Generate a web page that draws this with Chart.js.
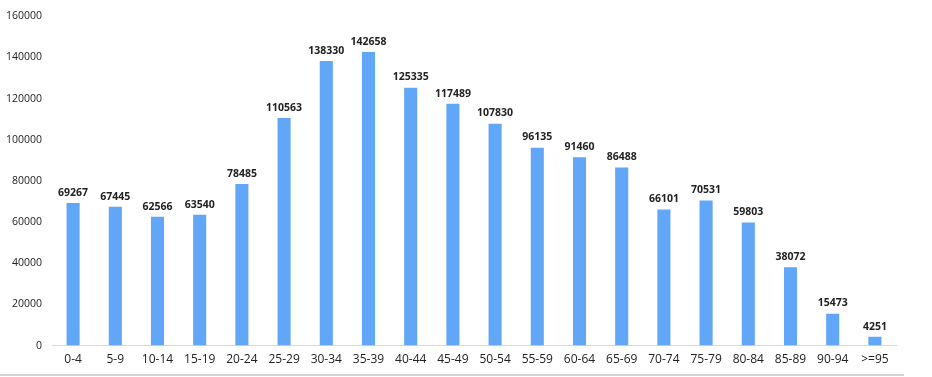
<!DOCTYPE html>
<html>
<head>
<meta charset="utf-8">
<script src="https://cdn.jsdelivr.net/npm/chart.js@4"></script>
<style>
  html, body { margin: 0; padding: 0; background: #fff; }
  #wrap { position: relative; width: 932px; height: 377px; }
  #bottomLine { position: absolute; left: 0; top: 374px; width: 904px; height: 2px; background: #d4d4d4; }
</style>
</head>
<body>
<div id="wrap">
  <canvas id="ageChart" width="932" height="377"></canvas>
  <div id="bottomLine"></div>
</div>
<script>
const ageGroups = ['0-4', '5-9', '10-14', '15-19', '20-24', '25-29', '30-34', '35-39', '40-44', '45-49',
  '50-54', '55-59', '60-64', '65-69', '70-74', '75-79', '80-84', '85-89', '90-94', '>=95'];
const population = [69267, 67445, 62566, 63540, 78485, 110563, 138330, 142658, 125335, 117489,
  107830, 96135, 91460, 86488, 66101, 70531, 59803, 38072, 15473, 4251];

// labels over each bar
const barLabels = {
  id: 'barLabels',
  afterDatasetsDraw(chart) {
    const ctx = chart.ctx;
    const meta = chart.getDatasetMeta(0);
    ctx.save();
    ctx.font = 'bold 10.5px "Open Sans", sans-serif';
    ctx.fillStyle = '#222';
    ctx.textAlign = 'center';
    ctx.textBaseline = 'bottom';
    meta.data.forEach((bar, i) => {
      ctx.fillText(String(population[i]), bar.x, bar.y - 5);
    });
    ctx.restore();
  }
};

const ageChart = document.getElementById('ageChart');

new Chart(ageChart, {
  type: 'bar',
  data: {
    labels: ageGroups,
    datasets: [{
      data: population,
      backgroundColor: 'rgb(97, 166, 247)',
      categoryPercentage: 1,
      barPercentage: 0.31
    }]
  },
  options: {
    responsive: false,
    animation: false,
    layout: { padding: { top: 9, right: 36, bottom: 3, left: 0 } },
    plugins: {
      legend: { display: false },
      tooltip: { enabled: false }
    },
    scales: {
      x: {
        grid: { display: false, drawTicks: false },
        border: { display: true, color: '#d9d9d9', width: 1 },
        ticks: { color: '#222', padding: 7, font: { family: '"Open Sans", sans-serif', size: 12, weight: 500 }, maxRotation: 0 }
      },
      y: {
        min: 0,
        max: 160000,
        grid: { display: false, drawTicks: false },
        border: { display: false },
        afterFit(scale) { scale.width = 52; },
        ticks: {
          stepSize: 20000,
          color: '#222',
          padding: 10,
          font: { family: '"Open Sans", sans-serif', size: 10.5, weight: 500 },
          callback: v => String(v)
        }
      }
    }
  },
  plugins: [barLabels]
});
</script>
</body>
</html>
